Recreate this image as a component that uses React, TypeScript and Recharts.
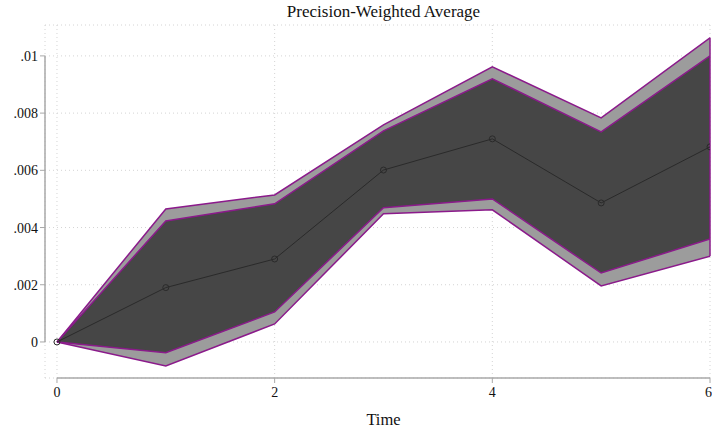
import React from 'react';
import {
  ComposedChart,
  Area,
  Line,
  XAxis,
  YAxis,
  CartesianGrid,
  ReferenceLine,
} from 'recharts';

const times = [0, 1, 2, 3, 4, 5, 6];
const estimate = [0, 0.0019, 0.0029, 0.00601, 0.0071, 0.00486, 0.00682];
const outerHigh = [0, 0.00465, 0.00514, 0.00759, 0.00962, 0.00783, 0.01063];
const innerHigh = [0, 0.00423, 0.00483, 0.00738, 0.0092, 0.00734, 0.01];
const innerLow = [0, -0.00038, 0.00105, 0.00469, 0.005, 0.00241, 0.0036];
const outerLow = [0, -0.00084, 0.00063, 0.00448, 0.00462, 0.00196, 0.003];

const xTicks = [0, 2, 4, 6];
const yTicks = [0, 0.002, 0.004, 0.006, 0.008, 0.01];

const data = times.map((t, i) => ({
  t,
  est: estimate[i],
  outer: [outerLow[i], outerHigh[i]],
  inner: [innerLow[i], innerHigh[i]],
}));

const FONT = '"Liberation Serif", "Times New Roman", serif';
const PURPLE = '#8b1a8b';
const AXIS = '#a8a8a8';
const X_MIN = -0.11;
const Y_MIN = -0.00126;
const last = times.length - 1;

const fmtY = (v: number) => (v === 0 ? '0' : String(v).replace(/^0\./, '.'));

export default function App() {
  return (
    <div style={{ position: 'absolute', left: 0, top: 0, width: 712, height: 432, fontFamily: FONT }}>
      <div
        style={{
          position: 'absolute',
          top: 2,
          left: 0,
          width: 767,
          textAlign: 'center',
          fontSize: 17,
          color: '#111',
        }}
      >
        Precision-Weighted Average
      </div>
      <div
        style={{
          position: 'absolute',
          top: 410,
          left: 0,
          width: 767,
          textAlign: 'center',
          fontSize: 16.5,
          color: '#111',
        }}
      >
        Time
      </div>
      <ComposedChart
        width={712}
        height={432}
        data={data}
        margin={{ top: 25, right: 2, left: 0, bottom: 0 }}
      >
        <CartesianGrid stroke="#d4d4d4" strokeDasharray="1 3" />
        <XAxis
          dataKey="t"
          type="number"
          domain={[X_MIN, 6]}
          ticks={xTicks}
          allowDataOverflow
          height={54}
          axisLine={false}
          tickLine={{ stroke: AXIS }}
          tickSize={5}
          tick={{ fill: '#111', fontSize: 14, fontFamily: FONT, dy: 2 }}
        />
        <YAxis
          type="number"
          domain={[Y_MIN, 0.01108]}
          ticks={yTicks}
          allowDataOverflow
          width={45}
          axisLine={false}
          tickLine={{ stroke: AXIS }}
          tickSize={5}
          tickFormatter={fmtY}
          tick={{ fill: '#111', fontSize: 14, fontFamily: FONT }}
        />
        <ReferenceLine
          segment={[{ x: X_MIN, y: 0 }, { x: X_MIN, y: 0.01 }]}
          stroke={AXIS}
          strokeWidth={1.5}
          ifOverflow="visible"
        />
        <ReferenceLine
          segment={[{ x: 0, y: Y_MIN }, { x: 6, y: Y_MIN }]}
          stroke={AXIS}
          strokeWidth={1.5}
          ifOverflow="visible"
        />
        <Area
          type="linear"
          dataKey="outer"
          fill="#9c9c9c"
          fillOpacity={1}
          stroke={PURPLE}
          strokeWidth={1.5}
          isAnimationActive={false}
        />
        <Area
          type="linear"
          dataKey="inner"
          fill="#464646"
          fillOpacity={1}
          stroke={PURPLE}
          strokeWidth={1.5}
          isAnimationActive={false}
        />
        <ReferenceLine
          segment={[
            { x: times[last], y: outerLow[last] },
            { x: times[last], y: outerHigh[last] },
          ]}
          stroke={PURPLE}
          strokeWidth={1.5}
          ifOverflow="visible"
        />
        <Line
          type="linear"
          dataKey="est"
          stroke="#2a2a2a"
          strokeWidth={1}
          dot={{ r: 3, fill: 'none', stroke: '#2a2a2a', strokeWidth: 1 }}
          activeDot={false}
          isAnimationActive={false}
        />
      </ComposedChart>
    </div>
  );
}
